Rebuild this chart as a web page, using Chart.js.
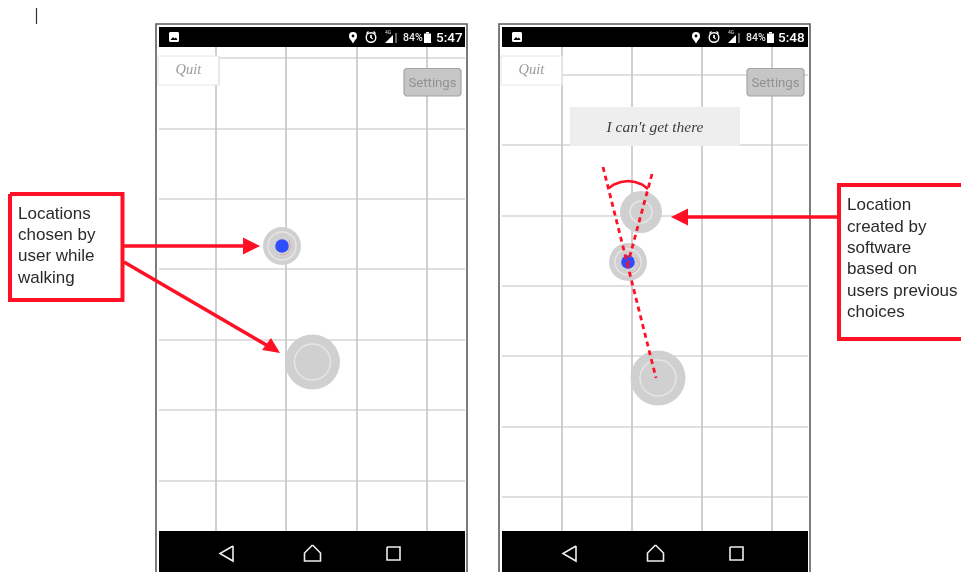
<!DOCTYPE html>
<html>
<head>
<meta charset="utf-8">
<title>Locations chosen by user</title>
<script src="https://cdn.jsdelivr.net/npm/chart.js@4"></script>
<style>
    html, body { margin: 0; padding: 0; background: #fff; }
    canvas { display: block; filter: blur(0.6px); }
</style>
</head>
<body>
<canvas id="sketch" width="961" height="572"></canvas>
<script>
// Grid lines of the two phone screens
const leftGridX = [216, 286, 357, 427];
const leftGridY = [58, 129, 199, 269, 340, 410, 481];
const rightGridX = [562, 632, 702, 772];
const rightGridY = [75, 145, 216, 286, 356, 427, 497];

// Location markers: [x, y, outer radius, ring radius]
const leftMarkers = [[282, 246, 19, 14], [312.5, 362, 27.5, 18]];
const rightMarkers = [[641, 212, 21, 11], [628, 262, 19, 13], [658, 378, 27.5, 18]];
const userDots = [[282, 246], [628, 262]];
const userTrailLeft = [[289, 240], [291, 247], [287, 254], [280, 255]];
const userTrailRight = [[635, 257], [640, 264], [636, 271], [630, 274]];

// Red annotations
const leftBox = [[10, 194], [122.5, 194], [122.5, 300], [10, 300], [10, 194]];
const rightBox = [[970, 185], [839, 185], [839, 339], [970, 339]];
const leftArrowA = [[124, 246], [246, 246]];
const leftHeadA = [[260, 246], [243, 237.5], [243, 254.5]];
const leftArrowB = [[124, 262], [268, 346]];
const leftHeadB = [[280, 353], [262, 350], [271, 338]];
const rightArrow = [[837, 217], [685, 217]];
const rightHead = [[671, 217], [688, 208.5], [688, 225.5]];
const angleLong = [[603, 167], [656, 378]];
const angleShort = [[652, 174], [628, 263]];
const angleArc = [[609, 188], [614, 184.5], [621, 182], [628, 181], [635, 182], [642, 184.5], [648, 189]];

const leftNote = ['Locations', 'chosen by', 'user while', 'walking'];
const leftNoteY = [219, 240, 261, 283];
const rightNote = ['Location', 'created by', 'software', 'based on', 'users previous', 'choices'];
const rightNoteY = [210, 232, 253, 274, 296, 317];

const cursorMark = [[36.5, 8], [36.5, 24]];

const redInk = '#ff1024';
const marks = [];

function pts(list) {
    return list.map(p => ({ x: p[0], y: p[1] }));
}

function addLine(list, color, width, dash) {
    marks.push({
        data: pts(list), showLine: true, pointRadius: 0, fill: false,
        borderColor: color, borderWidth: width, borderDash: dash || [], tension: 0
    });
}

function addShape(list, fillColor, strokeColor, width) {
    marks.push({
        data: pts(list), showLine: true, pointRadius: 0, fill: 'shape',
        backgroundColor: fillColor, borderColor: strokeColor || fillColor, borderWidth: width || 0, tension: 0
    });
}

function addDot(x, y, radius, fillColor, strokeColor, width) {
    marks.push({
        data: [{ x: x, y: y }], showLine: false, pointStyle: 'circle', pointRadius: radius,
        pointBackgroundColor: fillColor, pointBorderColor: strokeColor || fillColor, pointBorderWidth: width || 0
    });
}

function rect(x0, y0, x1, y1) {
    return [[x0, y0], [x1, y0], [x1, y1], [x0, y1], [x0, y0]];
}

function roundRect(x0, y0, x1, y1, c) {
    return [[x0 + c, y0], [x1 - c, y0], [x1, y0 + c], [x1, y1 - c], [x1 - c, y1], [x0 + c, y1], [x0, y1 - c], [x0, y0 + c], [x0 + c, y0]];
}

// One phone: frame, grid, bars, status icons, nav icons, buttons. pinX anchors the icon rows.
function addPhone(frameL, frameR, gridX, gridY, pinX) {
    const l = frameL + 3, r = frameR - 2;
    addLine([[frameL, 572], [frameL, 24], [frameR, 24], [frameR, 572]], '#5c5c5c', 1.6);
    gridY.forEach(y => addLine([[l, y], [r, y]], '#bfbfbf', 1.2));
    gridX.forEach(x => addLine([[x, 47], [x, 531]], '#c8c8c8', 1.7));
    addShape(rect(l, 27, r, 47), '#000000');
    addShape(rect(l, 531, r, 572), '#000000');

    // status bar icons
    const imgX = l + 10;
    addShape(roundRect(imgX, 32, imgX + 10, 42, 1), '#ffffff');
    addShape([[imgX + 1.5, 40], [imgX + 4, 37], [imgX + 5.5, 38.5], [imgX + 7, 37.5], [imgX + 8.5, 40]], '#000000');
    addShape([[pinX - 3.5, 38], [pinX + 3.5, 38], [pinX, 43.5]], '#ffffff');
    addDot(pinX, 36, 4, '#ffffff');
    addDot(pinX, 36, 1.4, '#000000');
    addDot(pinX + 18, 37.5, 4.8, '#000000', '#ffffff', 1.4);
    addLine([[pinX + 18, 35], [pinX + 18, 38], [pinX + 20, 39]], '#ffffff', 1);
    addLine([[pinX + 13.5, 33.5], [pinX + 15.5, 31.5]], '#ffffff', 1.3);
    addLine([[pinX + 20.5, 31.5], [pinX + 22.5, 33.5]], '#ffffff', 1.3);
    addShape([[pinX + 32, 43], [pinX + 40, 43], [pinX + 40, 35]], '#ffffff');
    addShape(rect(pinX + 42, 33, pinX + 44, 43), '#666666');
    addShape(rect(pinX + 71, 33.5, pinX + 78, 43), '#ffffff');
    addShape(rect(pinX + 73, 32, pinX + 76, 33.5), '#ffffff');

    // nav bar icons
    const back = pinX - 133, home = pinX - 40.5, square = pinX + 34;
    addLine([[back + 13, 546], [back, 553.5], [back + 13, 561], [back + 13, 546]], '#eeeeee', 1.6);
    addLine([[home, 545], [home + 8, 553], [home + 8, 561], [home - 8, 561], [home - 8, 553], [home, 545]], '#eeeeee', 1.6);
    addLine(rect(square, 547, square + 13, 560), '#eeeeee', 1.6);

    // buttons
    addShape(rect(l - 1, 56, l + 60, 85), '#ffffff', '#e6e6e6', 1);
    addShape(roundRect(r - 61, 68.5, r - 4, 96, 2), '#c6c6c6', '#a4a4a4', 1.2);
}

function addMarkers(list) {
    list.forEach(m => {
        addDot(m[0], m[1], m[2], '#d0d0d0');
        addDot(m[0], m[1], m[3], 'rgba(0,0,0,0)', '#e6e6e6', 1.4);
    });
}

addPhone(156, 467, leftGridX, leftGridY, 353);
addPhone(499, 810, rightGridX, rightGridY, 696);
addShape(rect(570, 107, 740, 146), '#eeeeee');

addMarkers(leftMarkers);
addMarkers(rightMarkers);
addLine(userTrailLeft, 'rgba(235,120,130,0.6)', 0.7);
addLine(userTrailRight, 'rgba(235,120,130,0.6)', 0.7);
userDots.forEach(d => addDot(d[0], d[1], 6.8, '#2f4dff'));

addLine(cursorMark, '#333333', 1.2);
addLine(leftBox, redInk, 4);
addLine(rightBox, redInk, 4);
addLine(leftArrowA, redInk, 3.6);
addShape(leftHeadA, redInk);
addLine(leftArrowB, redInk, 3.6);
addShape(leftHeadB, redInk);
addLine(rightArrow, redInk, 3.6);
addShape(rightHead, redInk);
addLine(angleLong, redInk, 2.8, [5, 4]);
addLine(angleShort, redInk, 2.8, [5, 4]);
addLine(angleArc, redInk, 2.6);

// Text: [string, x, y, font, color, align]
const sans = '"Liberation Sans", Arial, sans-serif';
const labels = [
    ['84%', 403, 41, '500 10.5px Roboto', '#e8e8e8', 'left'],
    ['84%', 746, 41, '500 10.5px Roboto', '#e8e8e8', 'left'],
    ['5:47', 436, 42, '500 13.5px Roboto', '#ffffff', 'left'],
    ['5:48', 778, 42, '500 13.5px Roboto', '#ffffff', 'left'],
    ['4G', 385, 33.5, '5px Roboto', '#dddddd', 'left'],
    ['4G', 728, 33.5, '5px Roboto', '#dddddd', 'left'],
    ['Quit', 188.5, 74, 'italic 14.5px "Liberation Serif", serif', '#9a9a9a', 'center'],
    ['Quit', 531.5, 74, 'italic 14.5px "Liberation Serif", serif', '#9a9a9a', 'center'],
    ['Settings', 432.5, 87, '13.2px Roboto', '#929292', 'center'],
    ['Settings', 775.5, 87, '13.2px Roboto', '#929292', 'center'],
    ["I can't get there", 655, 132, 'italic 15.5px "Liberation Serif", serif', '#3c3c3c', 'center']
];
leftNote.forEach((t, i) => labels.push([t, 18, leftNoteY[i], '17px ' + sans, '#2a2a2a', 'left']));
rightNote.forEach((t, i) => labels.push([t, 847, rightNoteY[i], '17px ' + sans, '#2a2a2a', 'left']));

const textPlugin = {
    id: 'textLabels',
    afterDatasetsDraw(chart) {
        const ctx = chart.ctx;
        const xs = chart.scales.x, ys = chart.scales.y;
        ctx.save();
        ctx.textBaseline = 'alphabetic';
        labels.forEach(l => {
            ctx.font = l[3];
            ctx.fillStyle = l[4];
            ctx.textAlign = l[5];
            ctx.fillText(l[0], xs.getPixelForValue(l[1]), ys.getPixelForValue(l[2]));
        });
        ctx.restore();
    }
};

// Chart.js paints the first dataset on top, so flip the list to keep the order above
new Chart(document.getElementById('sketch'), {
    type: 'scatter',
    data: { datasets: marks.reverse() },
    options: {
        responsive: false,
        animation: false,
        events: [],
        layout: { padding: 0, autoPadding: false },
        plugins: { legend: { display: false }, tooltip: { enabled: false } },
        scales: {
            x: { type: 'linear', min: 0, max: 961, display: false },
            y: { type: 'linear', min: 0, max: 572, reverse: true, display: false }
        }
    },
    plugins: [textPlugin]
});
</script>
</body>
</html>
